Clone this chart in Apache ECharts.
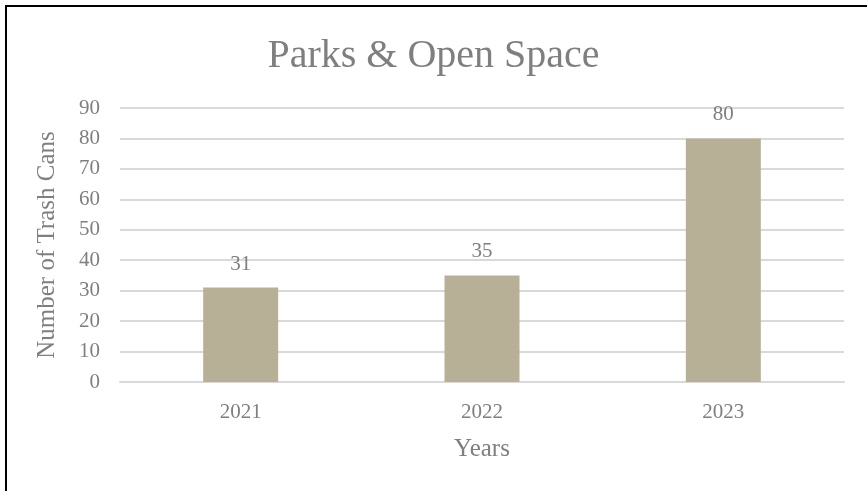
<!DOCTYPE html>
<html>
<head>
<meta charset="utf-8">
<script src="https://cdn.jsdelivr.net/npm/echarts@6/dist/echarts.min.js"></script>
<style>
html,body{margin:0;padding:0;background:#fff;}
#chart{width:867px;height:491px;}
</style>
</head>
<body>
<div id="chart"></div>
<script>
const categories = ['2021', '2022', '2023'];
const trashCans = [31, 35, 80];
const yTicks = [0, 10, 20, 30, 40, 50, 60, 70, 80, 90];

const FONT = '"Liberation Serif", "Times New Roman", serif';
const GREY = '#7f7f7f';

const chart = echarts.init(document.getElementById('chart'), null, {renderer: 'canvas'});
chart.setOption({
  backgroundColor: '#ffffff',
  animation: false,
  title: {
    text: 'Parks & Open Space',
    left: 'center',
    top: 31,
    textStyle: {fontFamily: FONT, fontSize: 40, fontWeight: 'normal', color: GREY}
  },
  grid: {left: 120, right: 23, top: 108, bottom: 109, containLabel: false},
  xAxis: {
    type: 'category',
    data: categories,
    name: 'Years',
    nameLocation: 'middle',
    nameGap: 55,
    nameTextStyle: {fontFamily: FONT, fontSize: 25, color: GREY},
    axisLine: {show: true, lineStyle: {color: '#d9d9d9', width: 2}},
    axisTick: {show: false},
    axisLabel: {fontFamily: FONT, fontSize: 21, color: GREY, margin: 20}
  },
  yAxis: {
    type: 'value',
    min: yTicks[0],
    max: yTicks[yTicks.length - 1],
    interval: 10,
    name: 'Number of Trash Cans',
    nameLocation: 'middle',
    nameGap: 60,
    nameTextStyle: {fontFamily: FONT, fontSize: 25, color: GREY},
    axisLine: {show: false},
    axisTick: {show: false},
    axisLabel: {fontFamily: FONT, fontSize: 21, color: GREY, margin: 20},
    splitLine: {show: true, lineStyle: {color: '#d9d9d9', width: 2}}
  },
  series: [{
    type: 'bar',
    data: trashCans,
    barWidth: 75,
    itemStyle: {color: '#b8b096'},
    label: {
      show: true,
      position: 'top',
      distance: 13,
      fontFamily: FONT,
      fontSize: 21,
      color: GREY
    }
  }],
  graphic: [
    {type: 'line', shape: {x1: 6, y1: 6, x2: 867, y2: 6}, style: {stroke: '#000', lineWidth: 2}},
    {type: 'line', shape: {x1: 6, y1: 5, x2: 6, y2: 491}, style: {stroke: '#000', lineWidth: 2}}
  ]
});
</script>
</body>
</html>
